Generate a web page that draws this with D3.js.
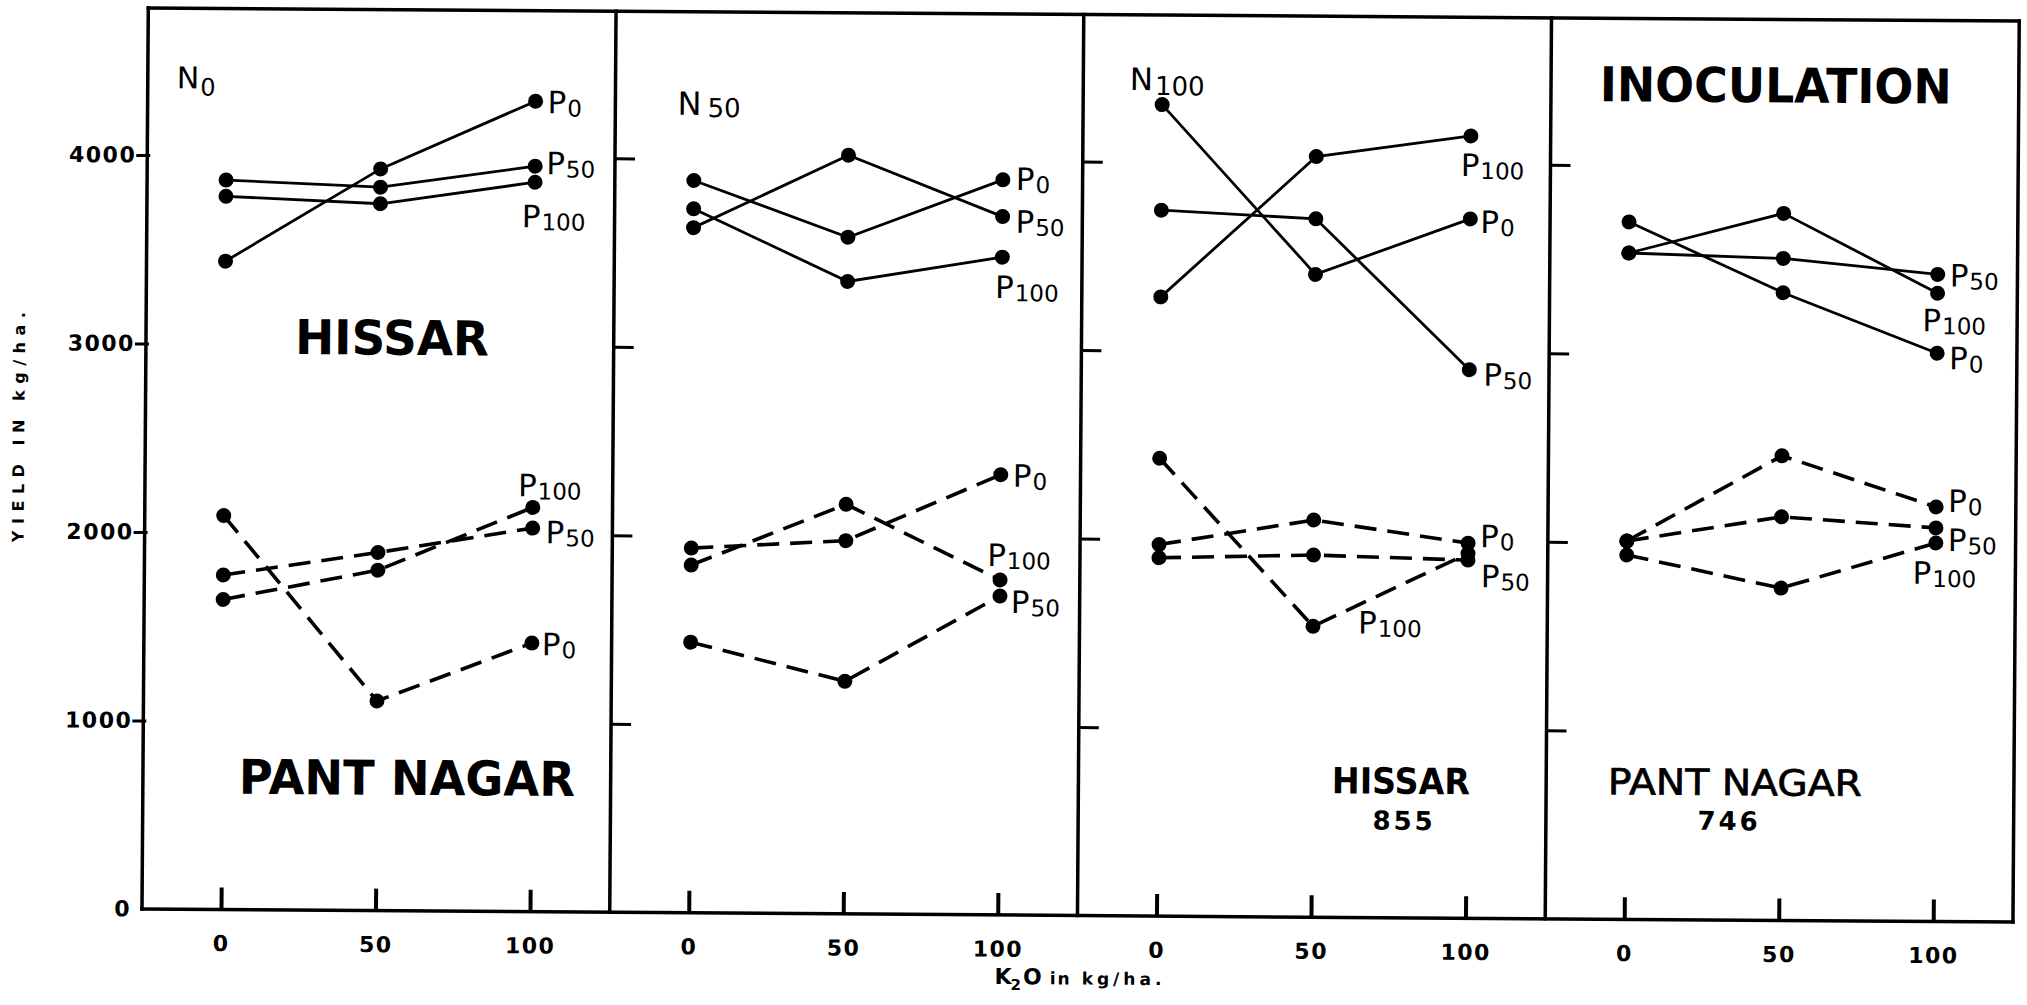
<!DOCTYPE html>
<html>
<head>
<meta charset="utf-8">
<script src="https://cdn.jsdelivr.net/npm/d3@7"></script>
<style>
  html, body { margin: 0; padding: 0; background: #ffffff; }
  svg { display: block; }
</style>
</head>
<body>
<script>
// ---------------- DATA ----------------
const kLevels = [0, 50, 100];                 // K2O in kg/ha (x values)
const pSubs = ["0", "50", "100"];             // P levels (series: P0, P50, P100)
const nSubs = ["0", "50", "100", null];       // N levels per panel (last = INOCULATION)
const yTicks = [0, 1000, 2000, 3000, 4000];
const xTicks = [0, 50, 100];

// HISSAR (solid lines) yields kg/ha; rows: P0, P50, P100; columns: K2O 0, 50, 100
const hissarN0   = [[3440, 3935, 4300], [3870, 3838, 3955], [3784, 3750, 3870]];
const hissarN50  = [[3885, 3590, 3900], [3635, 4025, 3705], [3735, 3355, 3490]];
const hissarN100 = [[4305, 3410, 3710], [3745, 3705, 2910], [3285, 4035, 4150]];
const hissarInoc = [[3700, 3330, 3015], [3535, 3512, 3433], [3535, 3751, 3333]];

// PANT NAGAR (dashed lines) yields kg/ha; rows: P0, P50, P100
const pantN0   = [[2090, 1112, 1425], [1775, 1900, 2035], [1645, 1806, 2145]];
const pantN50  = [[1935, 1980, 2336], [1436, 1234, 1692], [1845, 2173, 1777]];
const pantN100 = [[1971, 2107, 1990], [1901, 1921, 1900], [2429, 1543, 1935]];
const pantInoc = [[2007, 2465, 2199], [2007, 2141, 2088], [1933, 1763, 2008]];

const hissar = [hissarN0, hissarN50, hissarN100, hissarInoc];
const pant = [pantN0, pantN50, pantN100, pantInoc];

// ---------------- LAYOUT / STYLE ----------------
// label placement: [point index, dx px, dy px (baseline)] for P0, P50, P100
const hissarLabelPos = [
  [[2, 12, 12], [2, 11, 8], [2, -13, 45]],
  [[2, 13, 10], [2, 13, 16], [2, -7, 41]],
  [[2, 10, 14], [2, 14, 16], [2, -10, 40]],
  [[2, 12, 16], [2, 12, 12], [2, -15, 38]]
];
const pantLabelPos = [
  [[2, 10, 12], [2, 13, 15], [2, -15, -11]],
  [[2, 12, 12], [2, 11, 17], [2, -13, -14]],
  [[2, 12, 4], [2, 13, 27], [1, 45, 7]],
  [[2, 12, 5], [2, 12, 23], [2, -23, 41]]
];

const W = 2027, H = 1005;
const left0 = 142, panelW = 467.75, topY = 8, baseY = 909;
const FONT = "'DejaVu Sans', 'Liberation Sans', sans-serif";

const svg = d3.select("body").append("svg").attr("width", W).attr("height", H);
svg.append("rect").attr("width", W).attr("height", H).attr("fill", "#ffffff");
const g = svg.append("g").attr("transform", `rotate(0.4, ${left0}, ${baseY})`);

const y = d3.scaleLinear().domain([0, 4000]).range([baseY, 155]);
const panelX = i => left0 + i * panelW;
const xs = nSubs.map((_, i) => d3.scaleLinear().domain([0, 100]).range([panelX(i) + 79, panelX(i) + 388]));

// ---------------- FRAME ----------------
const frame = g.append("g").attr("stroke", "#000").attr("stroke-width", 3.5).attr("stroke-linecap", "square");
frame.append("line").attr("x1", left0).attr("x2", panelX(4)).attr("y1", topY).attr("y2", topY);
frame.append("line").attr("x1", left0).attr("x2", panelX(4)).attr("y1", baseY).attr("y2", baseY);
for (let i = 0; i <= 4; i++) {
  frame.append("line").attr("x1", panelX(i)).attr("x2", panelX(i)).attr("y1", topY).attr("y2", baseY);
}

// ---------------- Y AXIS (panel 1, outside) ----------------
const yAxisG = g.append("g").attr("transform", `translate(${left0},0)`)
  .call(d3.axisLeft(y).tickValues(yTicks).tickSize(11).tickPadding(1).tickFormat(d3.format("d")));
yAxisG.select(".domain").remove();
yAxisG.selectAll(".tick line").attr("stroke", "#000").attr("stroke-width", 3).attr("x2", 3).attr("x1", -11);
yAxisG.selectAll(".tick").filter(d => d === 0).select("line").remove();
yAxisG.selectAll("text").attr("font-family", FONT).attr("font-size", 22).attr("font-weight", "bold")
  .attr("letter-spacing", 1.5).attr("fill", "#000").attr("x", -11);

// inner ticks for panels 2-4
for (let i = 1; i < 4; i++) {
  const ag = g.append("g").attr("transform", `translate(${panelX(i)},0)`)
    .call(d3.axisRight(y).tickValues(yTicks.filter(v => v > 0)).tickSize(20).tickFormat(""));
  ag.select(".domain").remove();
  ag.selectAll("text").remove();
  ag.selectAll(".tick line").attr("stroke", "#000").attr("stroke-width", 3);
}

// ---------------- X AXES ----------------
xs.forEach((xsc, i) => {
  const ag = g.append("g").attr("transform", `translate(0,${baseY})`)
    .call(d3.axisBottom(xsc).tickValues(xTicks).tickSize(-22).tickPadding(26).tickFormat(d3.format("d")));
  ag.select(".domain").remove();
  ag.selectAll(".tick line").attr("stroke", "#000").attr("stroke-width", 4);
  ag.selectAll("text").attr("font-family", FONT).attr("font-size", 22).attr("font-weight", "bold")
    .attr("letter-spacing", 1.5).attr("fill", "#000");
});

// ---------------- SERIES ----------------
function drawSite(data, dashed, labelPos) {
  data.forEach((panelData, i) => {
    const line = d3.line().x((d, j) => xs[i](kLevels[j])).y(d => y(d));
    panelData.forEach((vals, s) => {
      g.append("path").datum(vals).attr("d", line).attr("fill", "none")
        .attr("stroke", "#000").attr("stroke-width", dashed ? 3.6 : 2.8)
        .attr("stroke-dasharray", dashed ? "22,11" : null)
        .attr("stroke-linecap", "butt");
      g.selectAll(null).data(vals).enter().append("circle")
        .attr("cx", (d, j) => xs[i](kLevels[j])).attr("cy", d => y(d)).attr("r", 7.5).attr("fill", "#000");
      const [pi, dx, dy] = labelPos[i][s];
      const t = g.append("text").attr("x", xs[i](kLevels[pi]) + dx).attr("y", y(vals[pi]) + dy)
        .attr("font-family", FONT).attr("fill", "#000");
      t.append("tspan").attr("font-size", 31).text("P");
      t.append("tspan").attr("font-size", 23).attr("dy", 3).attr("dx", 1).text(pSubs[s]);
    });
  });
}
drawSite(hissar, false, hissarLabelPos);
drawSite(pant, true, pantLabelPos);

// ---------------- PANEL TITLES ----------------
function nLabel(x, yb, sub, nSize, sSize, sdy, sdx) {
  const t = g.append("text").attr("x", x).attr("y", yb).attr("font-family", FONT).attr("fill", "#000");
  t.append("tspan").attr("font-size", nSize).text("N");
  t.append("tspan").attr("font-size", sSize).attr("dy", sdy).attr("dx", sdx).text(sub);
}
nLabel(171, 88, nSubs[0], 30, 24, 7, 1);
nLabel(672, 111, nSubs[1], 32, 26, 2, 6);
nLabel(1124, 83, nSubs[2], 31, 26, 5, 2);

g.append("text").attr("x", 1594).attr("y", 91).attr("font-family", FONT).attr("font-weight", "bold")
  .attr("font-size", 48).attr("textLength", 352).attr("lengthAdjust", "spacingAndGlyphs").text("INOCULATION");

// site names
g.append("text").attr("x", 291).attr("y", 353).attr("font-family", FONT).attr("font-weight", "bold")
  .attr("font-size", 48).attr("textLength", 194).attr("lengthAdjust", "spacingAndGlyphs").text("HISSAR");
g.append("text").attr("x", 238).attr("y", 793).attr("font-family", FONT).attr("font-weight", "bold")
  .attr("font-size", 48).attr("textLength", 336).attr("lengthAdjust", "spacingAndGlyphs").text("PANT NAGAR");
g.append("text").attr("x", 1331).attr("y", 785).attr("font-family", FONT).attr("font-weight", "bold")
  .attr("font-size", 36).attr("textLength", 138).attr("lengthAdjust", "spacingAndGlyphs").text("HISSAR");
g.append("text").attr("x", 1372).attr("y", 821).attr("font-family", FONT).attr("font-weight", "bold")
  .attr("font-size", 26).attr("textLength", 60).attr("lengthAdjust", "spacing").text("855");
g.append("text").attr("x", 1607).attr("y", 784).attr("font-family", FONT)
  .attr("font-size", 36).attr("stroke", "#000").attr("stroke-width", 0.7)
  .attr("textLength", 254).attr("lengthAdjust", "spacingAndGlyphs").text("PANT NAGAR");
g.append("text").attr("x", 1697).attr("y", 819).attr("font-family", FONT).attr("font-weight", "bold")
  .attr("font-size", 26).attr("textLength", 60).attr("lengthAdjust", "spacing").text("746");

// ---------------- AXIS TITLES ----------------
g.append("text").attr("transform", "translate(21,428) rotate(-90)")
  .attr("text-anchor", "middle").attr("font-family", FONT).attr("font-weight", "bold")
  .attr("font-size", 16).attr("textLength", 230).attr("lengthAdjust", "spacing")
  .text("YIELD IN kg/ha.");

const xt = g.append("text").attr("x", 995).attr("y", 978).attr("font-family", FONT).attr("font-weight", "bold").attr("fill", "#000");
xt.append("tspan").attr("font-size", 22).text("K");
xt.append("tspan").attr("font-size", 15).attr("dy", 6).attr("dx", -1).text("2");
xt.append("tspan").attr("font-size", 22).attr("dy", -6).attr("dx", 2).text("O");
xt.append("tspan").attr("font-size", 17).attr("dx", 8).attr("letter-spacing", 2).text("in");
xt.append("tspan").attr("font-size", 17).attr("dx", 10).attr("letter-spacing", 4).text("kg/ha.");
</script>
</body>
</html>
